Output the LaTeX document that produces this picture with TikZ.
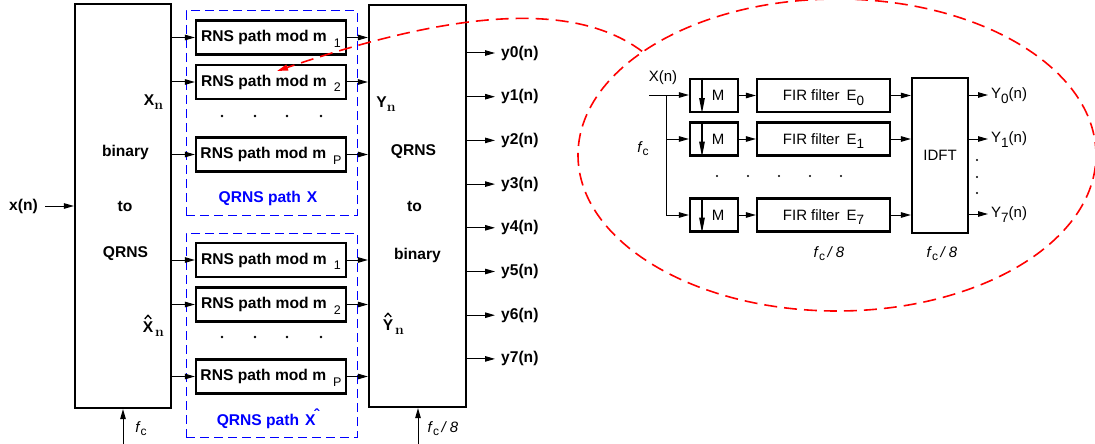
\documentclass[tikz,border=0pt]{standalone}
\usepackage{fontspec}
\setsansfont{Liberation Sans}
\renewcommand\familydefault{\sfdefault}
\usetikzlibrary{arrows.meta,shapes.geometric}
\newcommand\subs[1]{\smash{\raisebox{-5.5pt}{\fontsize{12.5}{12.5}\selectfont\mdseries #1}}}
\newcommand\subr[1]{\smash{\raisebox{-4.5pt}{\fontsize{13.5}{13.5}\selectfont #1}}}
\newcommand\nsub{\smash{\raisebox{-4pt}{\rmfamily\bfseries\fontsize{14}{14}\selectfont n}}}
\newcommand\fcsym{\textit{f}\smash{\raisebox{-3.5pt}{\fontsize{12}{12}\selectfont c}}}
\begin{document}
\begin{tikzpicture}[x=1pt,y=-1pt,
  every node/.style={font=\fontsize{15}{18}\selectfont},
  box/.style={draw, line width=2.2pt, inner sep=0pt},
  arr/.style={-{Triangle[length=10pt,width=5.5pt]}, line width=1pt},
  bl/.style={font=\fontsize{15.6}{18}\selectfont\bfseries},
  rns/.style={box, minimum width=150pt, minimum height=34pt, font=\fontsize{15.6}{18}\selectfont\bfseries},
  grp/.style={draw=blue, dash pattern=on 9pt off 5pt, line width=1pt, minimum width=171pt, minimum height=204pt, inner sep=0pt},
  msty/.style={box, minimum width=48pt, minimum height=33pt},
  firsty/.style={box, minimum width=133pt, minimum height=33pt},
  downarr/.style={-{Triangle[length=15pt,width=5.5pt]}, line width=1.1pt},
  hatline/.style={line width=1.3pt, line join=miter},
  reddash/.style={draw=red, line width=1.6pt, dash pattern=on 13pt off 7pt},
  dotty/.style={fill=black}
]
\useasboundingbox (0,0) rectangle (1095,444);

% ---------------- left converter
\node[box, minimum width=96pt, minimum height=404pt] (lbox) at (123,206) {};
\node[bl] (tbin) at (125.5,152) {binary};
\node[bl] (tto) at (125,206) {to};
\node[bl] (tqr) at (125.5,254) {QRNS};
\node[bl] (xn) at (153.5,100) {X\nsub};
\node[bl, inner sep=0pt, anchor=base] (xhx) at (148,332) {X};
\node[inner sep=0pt, anchor=base west] (xhnn) at ([xshift=1.5pt]xhx.base east) {\nsub};
\draw[hatline] ([xshift=-3.2pt,yshift=2.2pt]xhx.north) -- ([yshift=5.8pt]xhx.north) -- ([xshift=3.2pt,yshift=2.2pt]xhx.north);

\node[bl, anchor=east, inner xsep=7pt] (xinl) at (45,206) {x(n)};
\draw[arr] (xinl.east) -- (xinl.east -| lbox.west);
\coordinate (fcl) at (123,444);
\draw[arr] (fcl) -- (lbox.south);
\node (fclab) at (141,427) {\fcsym};

% ---------------- groups
\node[grp] (gx) at (271.5,113) {};
\node[grp] (gxh) at (271.5,335) {};
\node[bl, text=blue] (gxl) at (268,198) {QRNS path\hspace{6pt}X};
\node[bl, text=blue] (gxhl) at (268,419) {QRNS path\hspace{6pt}X\kern-1.5pt\raisebox{4.5pt}{\char"02C6}};

\node[rns] (r1) at (271,37.5) {RNS path mod m\hspace{7pt}\subs{1}};
\node[rns] (r2) at (271,82) {RNS path mod m\hspace{7pt}\subs{2}};
\node[rns] (rP) at (271,154.5) {RNS path mod m\hspace{7pt}\subs{P}};
\node[rns] (s1) at (271,260) {RNS path mod m\hspace{7pt}\subs{1}};
\node[rns] (s2) at (271,304.5) {RNS path mod m\hspace{7pt}\subs{2}};
\node[rns] (sP) at (271,376.5) {RNS path mod m\hspace{7pt}\subs{P}};

\foreach \x in {222,255,287,321} {
  \fill[dotty] (\x,116) circle (1.3pt);
  \fill[dotty] (\x,337) circle (1.3pt);
}

% ---------------- right converter
\node[box, minimum width=97pt, minimum height=402pt] (rbox) at (417.5,206) {};
\node[bl] (yn) at (386,102) {Y\nsub};
\node[bl] (tq2) at (413.5,152) {QRNS};
\node[bl] (tto2) at (414.5,206) {to};
\node[bl] (tbin2) at (417.5,255) {binary};
\node[bl, inner sep=0pt, anchor=base] (yhy) at (388,330) {Y};
\node[inner sep=0pt, anchor=base west] (yhnn) at ([xshift=1.5pt]yhy.base east) {\nsub};
\draw[hatline] ([xshift=-3.2pt,yshift=2.2pt]yhy.north) -- ([yshift=5.8pt]yhy.north) -- ([xshift=3.2pt,yshift=2.2pt]yhy.north);

\foreach \n in {r1,r2,rP,s1,s2,sP} {
  \draw[arr] (lbox.east |- \n.west) -- (\n.west);
  \draw[arr] (\n.east) -- (\n.east -| rbox.west);
}

\foreach \i in {0,...,7} {
  \node[bl, anchor=west, inner xsep=6pt, inner ysep=0pt] (y\i) at (495,{53+43.7*\i}) {y\i(n)};
  \draw[arr] (rbox.east |- y\i.west) -- (y\i.west);
}
\coordinate (fc8) at (418,444);
\draw[arr] (fc8) -- (fc8 |- rbox.south);
\node (fc8lab) at (443,427) {\fcsym\,\textit{/ 8}};

% ---------------- zoomed polyphase structure
\node[reddash, ellipse, minimum width=518pt, minimum height=312pt, inner sep=0pt] (zoomell) at (837,155) {};
\coordinate (tgt) at (277,71);
\draw[red, line width=1.6pt, dash pattern=on 13pt off 7pt, -{Triangle[length=11pt,width=6pt]}] (zoomell.152) .. controls (580,5) and (470,5) .. (tgt);

\node (xnl) at (663,78) {X(n)};
\coordinate (xs) at (649,95);
\coordinate (jn) at (666,95);
\node (fcr) at (643,147) {\fcsym};

\node[msty] (m0) at (714,95.5) {\hspace{8pt}M};
\node[msty] (m1) at (714,139) {\hspace{8pt}M};
\node[msty] (m7) at (714,215) {\hspace{8pt}M};
\foreach \m in {m0,m1,m7} {
  \draw[downarr] ([xshift=-12pt]\m.north) -- ([xshift=-12pt]\m.south);
}
\node[firsty] (f0) at (823.5,95.5) {FIR filter\hspace{7pt}E\subr{0}};
\node[firsty] (f1) at (823.5,139) {FIR filter\hspace{7pt}E\subr{1}};
\node[firsty] (f7) at (823.5,215) {FIR filter\hspace{7pt}E\subr{7}};
\node[box, minimum width=56pt, minimum height=155pt] (idft) at (940,155.5) {IDFT};

\draw[line width=1pt] (xs) -- (jn);
\draw[arr] (jn) -- (jn -| m0.west);
\draw[arr] (jn) |- (m1.west);
\draw[arr] (jn) |- (m7.west);
\foreach \m/\f in {m0/f0,m1/f1,m7/f7} {
  \draw[arr] (\m.east) -- (\f.west);
  \draw[arr] (\f.east) -- (\f.east -| idft.west);
}
\node[anchor=west, inner xsep=3pt, inner ysep=0pt] (Y0) at (988,95) {Y\subr{0}(n)};
\node[anchor=west, inner xsep=3pt, inner ysep=0pt] (Y1) at (988,139) {Y\subr{1}(n)};
\node[anchor=west, inner xsep=3pt, inner ysep=0pt] (Y7) at (988,214) {Y\subr{7}(n)};
\foreach \y in {Y0,Y1,Y7} {
  \draw[arr] (idft.east |- \y.west) -- (\y.west);
}
\foreach \yy in {160,177,193} { \fill[dotty] (977,\yy) circle (1.1pt); }
\foreach \x in {717,748,779,810,841} { \fill[dotty] (\x,176) circle (1.1pt); }

\node (fc8a) at (829,252) {\fcsym\,\textit{/ 8}};
\node (fc8b) at (942,252) {\fcsym\,\textit{/ 8}};
\end{tikzpicture}
\end{document}
